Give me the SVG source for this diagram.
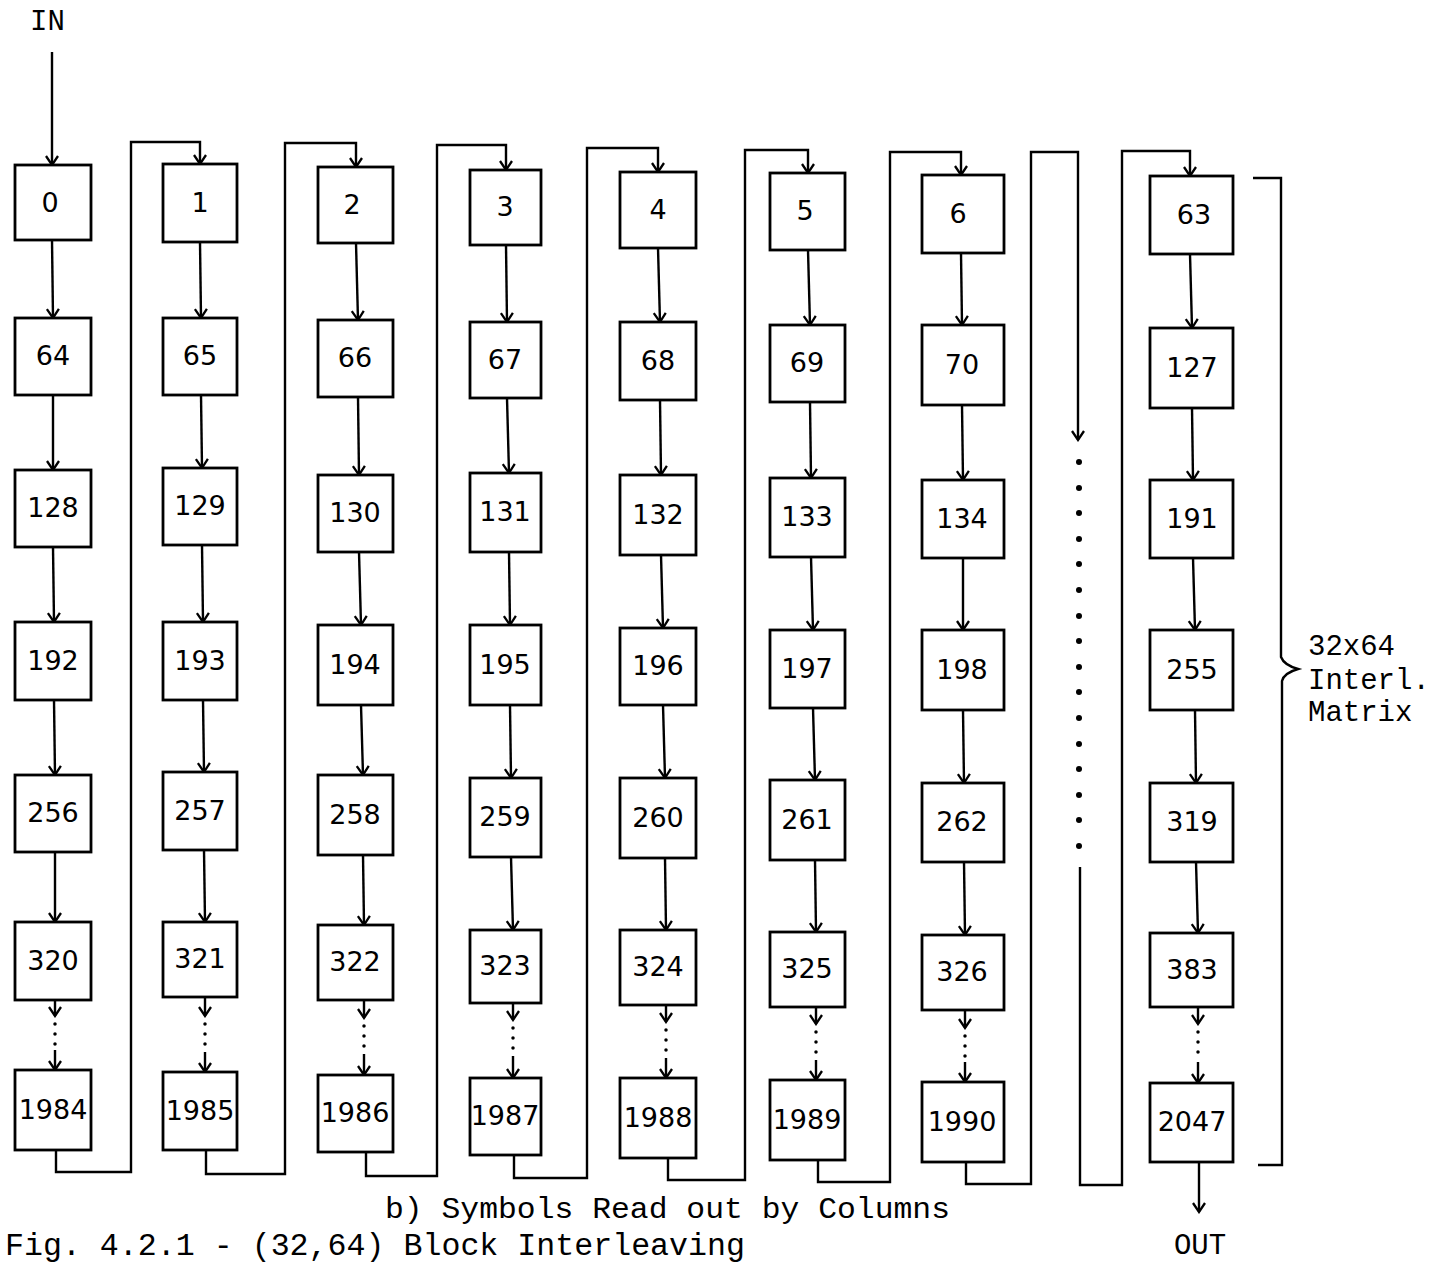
<svg xmlns="http://www.w3.org/2000/svg" width="1442" height="1264" viewBox="0 0 1442 1264">
<style>
.box rect{fill:#fff;stroke:#000;stroke-width:2.8}
.box text{font-family:"DejaVu Sans","Liberation Sans",sans-serif;font-size:27px;text-anchor:middle;fill:#000}
.ln{fill:none;stroke:#000;stroke-width:2.4;stroke-linejoin:miter}
.arr{marker-end:url(#ah)}
.dot{fill:none;stroke:#000;stroke-width:3.5;stroke-linecap:round;stroke-dasharray:0 10}
.mono{font-family:"Liberation Mono","Courier New",monospace;fill:#000}
</style>
<defs>
<marker id="ah" viewBox="-11 -8 13 16" refX="0" refY="0" markerWidth="13" markerHeight="16" markerUnits="userSpaceOnUse" orient="auto">
<path d="M-9,-6 L0,0 L-9,6" fill="none" stroke="#000" stroke-width="2.3"/>
</marker>
</defs>
<rect width="1442" height="1264" fill="#fff"/>

<g id="connectors">
<line class="ln arr" x1="52" y1="52" x2="52" y2="165"/>
<line class="ln arr" x1="52" y1="240" x2="53" y2="318"/>
<line class="ln arr" x1="53" y1="395" x2="53" y2="470"/>
<line class="ln arr" x1="53" y1="547" x2="54" y2="622"/>
<line class="ln arr" x1="54" y1="700" x2="55" y2="775"/>
<line class="ln arr" x1="55" y1="852" x2="55" y2="922"/>
<line class="ln arr" x1="55" y1="1000" x2="55" y2="1016"/>
<line class="dot" x1="55" y1="1024" x2="55" y2="1046"/>
<line class="ln arr" x1="55" y1="1050" x2="55" y2="1070"/>
<path class="ln arr" d="M56,1150 V1172 H131 V142 H200 V164"/>
<line class="ln arr" x1="200" y1="242" x2="201" y2="318"/>
<line class="ln arr" x1="201" y1="395" x2="202" y2="468"/>
<line class="ln arr" x1="202" y1="545" x2="203" y2="622"/>
<line class="ln arr" x1="203" y1="700" x2="204" y2="772"/>
<line class="ln arr" x1="204" y1="850" x2="205" y2="922"/>
<line class="ln arr" x1="205" y1="997" x2="205" y2="1016"/>
<line class="dot" x1="205" y1="1024" x2="205" y2="1048"/>
<line class="ln arr" x1="205" y1="1052" x2="205" y2="1072"/>
<path class="ln arr" d="M206,1150 V1174 H285 V143 H356 V167"/>
<line class="ln arr" x1="356" y1="243" x2="358" y2="320"/>
<line class="ln arr" x1="358" y1="397" x2="359" y2="475"/>
<line class="ln arr" x1="359" y1="552" x2="361" y2="625"/>
<line class="ln arr" x1="361" y1="705" x2="363" y2="775"/>
<line class="ln arr" x1="363" y1="855" x2="364" y2="925"/>
<line class="ln arr" x1="364" y1="1000" x2="364" y2="1018"/>
<line class="dot" x1="364" y1="1026" x2="364" y2="1050"/>
<line class="ln arr" x1="364" y1="1054" x2="364" y2="1075"/>
<path class="ln arr" d="M366,1152 V1176 H437 V145 H506 V170"/>
<line class="ln arr" x1="506" y1="245" x2="507" y2="322"/>
<line class="ln arr" x1="507" y1="398" x2="509" y2="473"/>
<line class="ln arr" x1="509" y1="552" x2="510" y2="625"/>
<line class="ln arr" x1="510" y1="705" x2="511" y2="778"/>
<line class="ln arr" x1="511" y1="857" x2="513" y2="930"/>
<line class="ln arr" x1="513" y1="1003" x2="513" y2="1020"/>
<line class="dot" x1="513" y1="1028" x2="513" y2="1052"/>
<line class="ln arr" x1="513" y1="1056" x2="513" y2="1078"/>
<path class="ln arr" d="M514,1155 V1178 H587 V148 H658 V172"/>
<line class="ln arr" x1="658" y1="248" x2="660" y2="322"/>
<line class="ln arr" x1="660" y1="400" x2="661" y2="475"/>
<line class="ln arr" x1="661" y1="555" x2="663" y2="628"/>
<line class="ln arr" x1="663" y1="705" x2="665" y2="778"/>
<line class="ln arr" x1="665" y1="858" x2="666" y2="930"/>
<line class="ln arr" x1="666" y1="1005" x2="666" y2="1022"/>
<line class="dot" x1="666" y1="1030" x2="666" y2="1054"/>
<line class="ln arr" x1="666" y1="1058" x2="666" y2="1078"/>
<path class="ln arr" d="M668,1158 V1180 H745 V150 H808 V173"/>
<line class="ln arr" x1="808" y1="250" x2="810" y2="325"/>
<line class="ln arr" x1="810" y1="402" x2="811" y2="478"/>
<line class="ln arr" x1="811" y1="557" x2="813" y2="630"/>
<line class="ln arr" x1="813" y1="708" x2="815" y2="780"/>
<line class="ln arr" x1="815" y1="860" x2="816" y2="932"/>
<line class="ln arr" x1="816" y1="1007" x2="816" y2="1024"/>
<line class="dot" x1="816" y1="1032" x2="816" y2="1056"/>
<line class="ln arr" x1="816" y1="1060" x2="816" y2="1080"/>
<path class="ln arr" d="M818,1160 V1182 H890 V152 H961 V175"/>
<line class="ln arr" x1="961" y1="253" x2="962" y2="325"/>
<line class="ln arr" x1="962" y1="405" x2="963" y2="480"/>
<line class="ln arr" x1="963" y1="558" x2="963" y2="630"/>
<line class="ln arr" x1="963" y1="710" x2="964" y2="783"/>
<line class="ln arr" x1="964" y1="862" x2="965" y2="935"/>
<line class="ln arr" x1="965" y1="1010" x2="965" y2="1028"/>
<line class="dot" x1="965" y1="1036" x2="965" y2="1058"/>
<line class="ln arr" x1="965" y1="1062" x2="965" y2="1082"/>
<path class="ln arr" d="M966,1162 V1184 H1031 V152 H1078 V440"/>
<g fill="#000">
<circle cx="1079" cy="462" r="3"/><circle cx="1079" cy="488" r="3"/><circle cx="1079" cy="513" r="3"/><circle cx="1079" cy="539" r="3"/>
<circle cx="1079" cy="564" r="3"/><circle cx="1079" cy="590" r="3"/><circle cx="1079" cy="616" r="3"/><circle cx="1079" cy="641" r="3"/>
<circle cx="1079" cy="667" r="3"/><circle cx="1079" cy="692" r="3"/><circle cx="1079" cy="718" r="3"/><circle cx="1079" cy="744" r="3"/>
<circle cx="1079" cy="769" r="3"/><circle cx="1079" cy="795" r="3"/><circle cx="1079" cy="820" r="3"/><circle cx="1079" cy="846" r="3"/>
</g>
<path class="ln arr" d="M1080,867 V1185 H1122 V151 H1190 V176"/>
<line class="ln arr" x1="1190" y1="254" x2="1192" y2="328"/>
<line class="ln arr" x1="1192" y1="408" x2="1193" y2="480"/>
<line class="ln arr" x1="1193" y1="558" x2="1195" y2="630"/>
<line class="ln arr" x1="1195" y1="710" x2="1196" y2="783"/>
<line class="ln arr" x1="1196" y1="862" x2="1198" y2="933"/>
<line class="ln arr" x1="1198" y1="1007" x2="1198" y2="1024"/>
<line class="dot" x1="1198" y1="1032" x2="1198" y2="1058"/>
<line class="ln arr" x1="1198" y1="1062" x2="1198" y2="1083"/>
<line class="ln arr" x1="1199" y1="1162" x2="1199" y2="1212"/>
<path class="ln" d="M1253,178 H1281 V657 Q1284,665 1298,669 Q1284,673 1282,681 V1165 H1258"/>
</g>

<g id="col0" class="box">
<g id="n0"><rect x="15" y="165" width="76" height="75"/><text x="50" y="212">0</text></g>
<g id="n64"><rect x="15" y="318" width="76" height="77"/><text x="53" y="365">64</text></g>
<g id="n128"><rect x="15" y="470" width="76" height="77"/><text x="53" y="517">128</text></g>
<g id="n192"><rect x="15" y="622" width="76" height="78"/><text x="53" y="670">192</text></g>
<g id="n256"><rect x="15" y="775" width="76" height="77"/><text x="53" y="822">256</text></g>
<g id="n320"><rect x="15" y="922" width="76" height="78"/><text x="53" y="970">320</text></g>
<g id="n1984"><rect x="15" y="1070" width="76" height="80"/><text x="53" y="1119">1984</text></g>
</g>
<g id="col1" class="box">
<g id="n1"><rect x="163" y="164" width="74" height="78"/><text x="200" y="212">1</text></g>
<g id="n65"><rect x="163" y="318" width="74" height="77"/><text x="200" y="365">65</text></g>
<g id="n129"><rect x="163" y="468" width="74" height="77"/><text x="200" y="515">129</text></g>
<g id="n193"><rect x="163" y="622" width="74" height="78"/><text x="200" y="670">193</text></g>
<g id="n257"><rect x="163" y="772" width="74" height="78"/><text x="200" y="820">257</text></g>
<g id="n321"><rect x="163" y="922" width="74" height="75"/><text x="200" y="968">321</text></g>
<g id="n1985"><rect x="163" y="1072" width="74" height="78"/><text x="200" y="1120">1985</text></g>
</g>
<g id="col2" class="box">
<g id="n2"><rect x="318" y="167" width="75" height="76"/><text x="352" y="214">2</text></g>
<g id="n66"><rect x="318" y="320" width="75" height="77"/><text x="355" y="367">66</text></g>
<g id="n130"><rect x="318" y="475" width="75" height="77"/><text x="355" y="522">130</text></g>
<g id="n194"><rect x="318" y="625" width="75" height="80"/><text x="355" y="674">194</text></g>
<g id="n258"><rect x="318" y="775" width="75" height="80"/><text x="355" y="824">258</text></g>
<g id="n322"><rect x="318" y="925" width="75" height="75"/><text x="355" y="971">322</text></g>
<g id="n1986"><rect x="318" y="1075" width="75" height="77"/><text x="355" y="1122">1986</text></g>
</g>
<g id="col3" class="box">
<g id="n3"><rect x="470" y="170" width="71" height="75"/><text x="505" y="216">3</text></g>
<g id="n67"><rect x="470" y="322" width="71" height="76"/><text x="505" y="369">67</text></g>
<g id="n131"><rect x="470" y="473" width="71" height="79"/><text x="505" y="521">131</text></g>
<g id="n195"><rect x="470" y="625" width="71" height="80"/><text x="505" y="674">195</text></g>
<g id="n259"><rect x="470" y="778" width="71" height="79"/><text x="505" y="826">259</text></g>
<g id="n323"><rect x="470" y="930" width="71" height="73"/><text x="505" y="975">323</text></g>
<g id="n1987"><rect x="470" y="1078" width="71" height="77"/><text x="505" y="1125">1987</text></g>
</g>
<g id="col4" class="box">
<g id="n4"><rect x="620" y="172" width="76" height="76"/><text x="658" y="219">4</text></g>
<g id="n68"><rect x="620" y="322" width="76" height="78"/><text x="658" y="370">68</text></g>
<g id="n132"><rect x="620" y="475" width="76" height="80"/><text x="658" y="524">132</text></g>
<g id="n196"><rect x="620" y="628" width="76" height="77"/><text x="658" y="675">196</text></g>
<g id="n260"><rect x="620" y="778" width="76" height="80"/><text x="658" y="827">260</text></g>
<g id="n324"><rect x="620" y="930" width="76" height="75"/><text x="658" y="976">324</text></g>
<g id="n1988"><rect x="620" y="1078" width="76" height="80"/><text x="658" y="1127">1988</text></g>
</g>
<g id="col5" class="box">
<g id="n5"><rect x="770" y="173" width="75" height="77"/><text x="805" y="220">5</text></g>
<g id="n69"><rect x="770" y="325" width="75" height="77"/><text x="807" y="372">69</text></g>
<g id="n133"><rect x="770" y="478" width="75" height="79"/><text x="807" y="526">133</text></g>
<g id="n197"><rect x="770" y="630" width="75" height="78"/><text x="807" y="678">197</text></g>
<g id="n261"><rect x="770" y="780" width="75" height="80"/><text x="807" y="829">261</text></g>
<g id="n325"><rect x="770" y="932" width="75" height="75"/><text x="807" y="978">325</text></g>
<g id="n1989"><rect x="770" y="1080" width="75" height="80"/><text x="807" y="1129">1989</text></g>
</g>
<g id="col6" class="box">
<g id="n6"><rect x="922" y="175" width="82" height="78"/><text x="958" y="223">6</text></g>
<g id="n70"><rect x="922" y="325" width="82" height="80"/><text x="962" y="374">70</text></g>
<g id="n134"><rect x="922" y="480" width="82" height="78"/><text x="962" y="528">134</text></g>
<g id="n198"><rect x="922" y="630" width="82" height="80"/><text x="962" y="679">198</text></g>
<g id="n262"><rect x="922" y="783" width="82" height="79"/><text x="962" y="831">262</text></g>
<g id="n326"><rect x="922" y="935" width="82" height="75"/><text x="962" y="981">326</text></g>
<g id="n1990"><rect x="922" y="1082" width="82" height="80"/><text x="962" y="1131">1990</text></g>
</g>
<g id="col63" class="box">
<g id="n63"><rect x="1150" y="176" width="83" height="78"/><text x="1194" y="224">63</text></g>
<g id="n127"><rect x="1150" y="328" width="83" height="80"/><text x="1192" y="377">127</text></g>
<g id="n191"><rect x="1150" y="480" width="83" height="78"/><text x="1192" y="528">191</text></g>
<g id="n255"><rect x="1150" y="630" width="83" height="80"/><text x="1192" y="679">255</text></g>
<g id="n319"><rect x="1150" y="783" width="83" height="79"/><text x="1192" y="831">319</text></g>
<g id="n383"><rect x="1150" y="933" width="83" height="74"/><text x="1192" y="979">383</text></g>
<g id="n2047"><rect x="1150" y="1083" width="83" height="79"/><text x="1192" y="1131">2047</text></g>
</g>

<g id="labels" class="mono">
<text x="30" y="30" font-size="29">IN</text>
<text x="1200" y="1254" font-size="29" text-anchor="middle">OUT</text>
<text x="1308" y="655" font-size="29">32x64</text>
<text x="1308" y="689" font-size="29">Interl.</text>
<text x="1308" y="721" font-size="29">Matrix</text>
<text x="385" y="1218" font-size="30" textLength="565" lengthAdjust="spacingAndGlyphs">b) Symbols Read out by Columns</text>
<text x="5" y="1255" font-size="31" textLength="740" lengthAdjust="spacingAndGlyphs">Fig. 4.2.1 - (32,64) Block Interleaving</text>
</g>
</svg>
